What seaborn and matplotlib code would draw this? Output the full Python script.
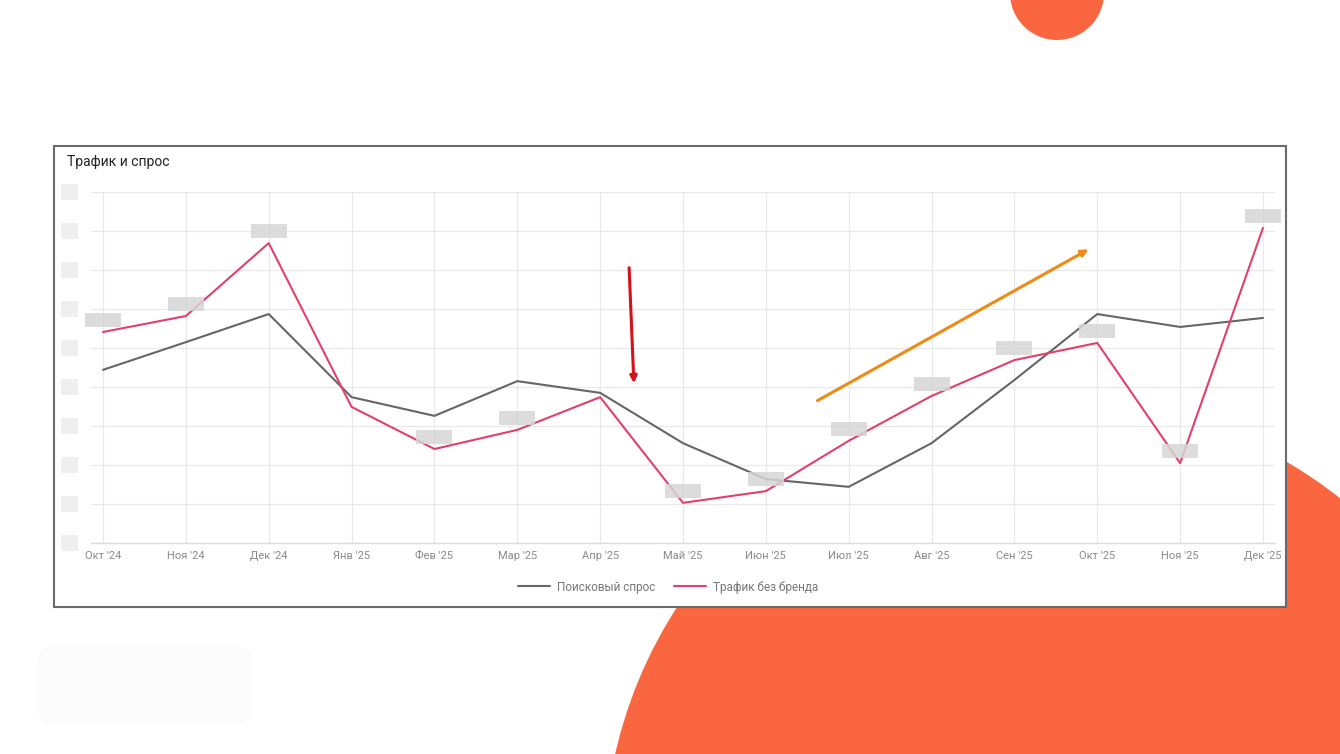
import numpy as np
import pandas as pd
import matplotlib
matplotlib.use("Agg")
import matplotlib.pyplot as plt
import seaborn as sns
from matplotlib.patches import Ellipse, Rectangle, FancyBboxPatch

# ---------------- data ----------------
months = ["Окт '24", "Ноя '24", "Дек '24", "Янв '25", "Фев '25", "Мар '25", "Апр '25",
          "Май '25", "Июн '25", "Июл '25", "Авг '25", "Сен '25", "Окт '25", "Ноя '25", "Дек '25"]
search_demand = [4.44, 5.15, 5.87, 3.74, 3.26, 4.15, 3.85, 2.56, 1.64, 1.44, 2.56, 4.18, 5.87, 5.54, 5.77]
traffic_nonbrand = [5.41, 5.82, 7.69, 3.49, 2.41, 2.90, 3.74, 1.03, 1.33, 2.62, 3.77, 4.69, 5.13, 2.05, 8.08]
label_shown = [True, True, True, False, True, True, False, True, True, True, True, True, True, True, True]
series_names = ["Поисковый спрос", "Трафик без бренда"]
y_levels = list(range(10))
title = "Трафик и спрос"

W, H = 1340, 754
gray = "#666666"
pink = "#e2406c"
orange = "#fa6640"

df = pd.DataFrame({
    "idx": list(range(len(months))) * 2,
    "value": search_demand + traffic_nonbrand,
    "series": [series_names[0]] * len(months) + [series_names[1]] * len(months),
})

sns.set_theme(style="white")
plt.rcParams["font.family"] = ["Roboto", "DejaVu Sans"]

fig = plt.figure(figsize=(W / 100, H / 100), dpi=100)
fig.patch.set_facecolor("white")

def fx(px):
    return px / W

def fy(py):
    return 1 - py / H

# decorative orange circles
fig.patches.append(Ellipse((fx(1058), fy(854)), 2 * 454 / W, 2 * 454 / H,
                           transform=fig.transFigure, facecolor=orange, edgecolor="none", zorder=1))
fig.patches.append(Ellipse((fx(1057), fy(-7)), 2 * 47 / W, 2 * 47 / H,
                           transform=fig.transFigure, facecolor=orange, edgecolor="none", zorder=1))
# faint shadow blob
fig.patches.append(FancyBboxPatch((fx(45), fy(722)), fx(200), (722 - 648) / H,
                                  boxstyle="round,pad=0.005,rounding_size=0.02",
                                  transform=fig.transFigure, facecolor="#fcfcfc",
                                  edgecolor="none", zorder=1))
# chart card
fig.patches.append(Rectangle((fx(54), fy(607)), (1286 - 54) / W, (607 - 146) / H,
                             transform=fig.transFigure, facecolor="white",
                             edgecolor="#6a6a6a", lw=1.5, zorder=2))

fig.text(fx(67), fy(162), title, fontsize=10, color="#222222", va="center", ha="left")

ax = fig.add_axes([fx(91), fy(543), (1275 - 91) / W, (543 - 192) / H])
ax.set_zorder(5)
ax.patch.set_alpha(0)

sns.lineplot(data=df, x="idx", y="value", hue="series", palette=[gray, pink],
             ax=ax, lw=1.5, zorder=3)

n = len(months)
ax.set_xlim(-0.145, n - 1 + 0.145)
ax.set_ylim(0, 9)
ax.set_xticks(range(n))
ax.set_xticklabels(months, fontsize=8, color="#8a8a8a")
ax.set_yticks(y_levels)
ax.set_yticklabels([])
ax.tick_params(axis="both", length=0)
ax.tick_params(axis="x", pad=6)
ax.grid(True, color="#e9e9e9", lw=0.9)
ax.set_xlabel("")
ax.set_ylabel("")
for s in ["top", "right", "left"]:
    ax.spines[s].set_visible(False)
ax.spines["bottom"].set_color("#dddddd")
ax.spines["bottom"].set_linewidth(1.0)

# blurred y tick labels (grey boxes)
px_x = (n - 1) / (1263 - 103)   # data units per pixel in x
px_y = 9 / (543 - 192)          # data units per pixel in y
for lv in y_levels:
    x0 = (61 - 103) * px_x
    ax.add_patch(Rectangle((x0, lv - 8 * px_y), 17 * px_x, 16 * px_y,
                           facecolor="#efefef", edgecolor="none", clip_on=False, zorder=2))

# blurred data labels (grey boxes above the pink series)
for i, (v, show) in enumerate(zip(traffic_nonbrand, label_shown)):
    if not show:
        continue
    cy = v + 12 * px_y
    ax.add_patch(Rectangle((i - 18 * px_x, cy - 7 * px_y), 36 * px_x, 14 * px_y,
                           facecolor="#d6d6d6", edgecolor="none", alpha=0.85,
                           clip_on=False, zorder=4))

# annotation arrows
ax.annotate("", xy=((634 - 103) * px_x, (543 - 386) * px_y),
            xytext=((629 - 103) * px_x, (543 - 265) * px_y),
            arrowprops=dict(arrowstyle="-|>", color="#d3121b", lw=2.2, mutation_scale=10),
            annotation_clip=False, zorder=6)
ax.annotate("", xy=((1091 - 103) * px_x, (543 - 248) * px_y),
            xytext=((815 - 103) * px_x, (543 - 402) * px_y),
            arrowprops=dict(arrowstyle="-|>", color="#f08a17", lw=2.2, mutation_scale=10),
            annotation_clip=False, zorder=6)

sns.move_legend(ax, "center", bbox_to_anchor=((668 - 91) / (1275 - 91), (543 - 587) / (543 - 192)),
                ncol=2, frameon=False, title=None, fontsize=8.5,
                handlelength=2.7, handletextpad=0.6, columnspacing=1.6)
for t in ax.get_legend().get_texts():
    t.set_color("#777777")

fig.savefig("out.png", dpi=100, facecolor="white")
